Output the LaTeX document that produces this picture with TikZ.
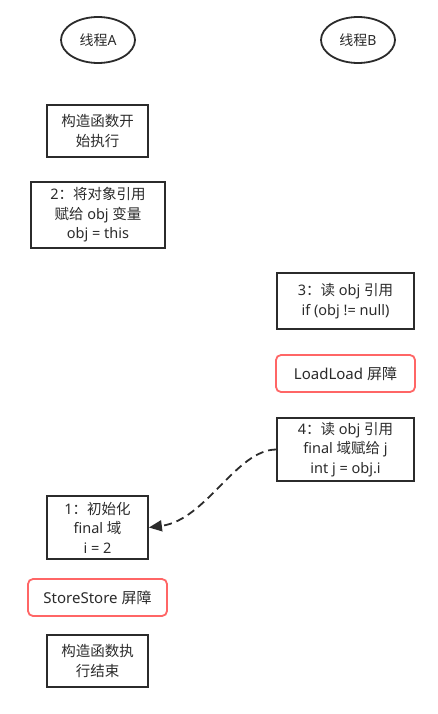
\documentclass[tikz,border=0pt]{standalone}
\usepackage{fontspec}
\setmainfont{Noto Sans}
\newfontfamily\cjk{Noto Sans CJK SC}
\usetikzlibrary{shapes.geometric,arrows.meta}
\definecolor{ink}{HTML}{2B2B2B}
\definecolor{barrier}{HTML}{FF6666}
\newcommand{\zh}[1]{{\cjk #1}}
\tikzset{
  thread/.style={ellipse,draw=ink,line width=1.8pt,minimum width=74pt,minimum height=46pt,inner sep=0pt,text=ink,font=\fontsize{14}{19}\selectfont},
  stepbox/.style={rectangle,draw=ink,line width=1.8pt,inner sep=0pt,align=center,text=ink,font=\fontsize{14.5}{19.5}\selectfont},
  barrierbox/.style={rectangle,rounded corners=5pt,draw=barrier,line width=1.8pt,inner sep=0pt,align=center,text=ink,font=\fontsize{15}{19}\selectfont},
  flow/.style={draw=ink,line width=1.8pt,dash pattern=on 8pt off 5pt,-{Triangle[length=13pt,width=11pt]}}
}
\begin{document}
\begin{tikzpicture}[x=1pt,y=-1pt]
\useasboundingbox (0,0) rectangle (438,714);
\node[thread] (ta) at (98,40) {\zh{线程}A};
\node[thread] (tb) at (358,40) {\zh{线程}B};
\node[stepbox,minimum width=101pt,minimum height=52pt] (s0) at (97.5,131) {\zh{构造函数开}\\\zh{始执行}};
\node[stepbox,minimum width=134pt,minimum height=66pt] (s2) at (98,215) {2\zh{：将对象引用}\\\zh{赋给} obj \zh{变量}\\obj = this};
\node[stepbox,minimum width=137pt,minimum height=56pt] (s3) at (345.5,301) {3\zh{：读} obj \zh{引用}\\if (obj != null)};
\node[barrierbox,minimum width=139pt,minimum height=37pt] (ll) at (345.5,373.5) {LoadLoad \zh{屏障}};
\node[stepbox,minimum width=137pt,minimum height=63pt] (s4) at (345.5,449.5) {4\zh{：读} obj \zh{引用}\\final \zh{域赋给} j\\int j = obj.i};
\node[stepbox,minimum width=101pt,minimum height=63pt] (s1) at (97.5,527.5) {1\zh{：初始化}\\final \zh{域}\\i = 2};
\node[barrierbox,minimum width=139pt,minimum height=37pt] (ss) at (97.5,597.5) {StoreStore \zh{屏障}};
\node[stepbox,minimum width=101pt,minimum height=52pt] (se) at (97.5,661) {\zh{构造函数执}\\\zh{行结束}};
\draw[flow] (s4.west) .. controls (236,450) and (206,520) .. (s1.east);
\end{tikzpicture}
\end{document}
